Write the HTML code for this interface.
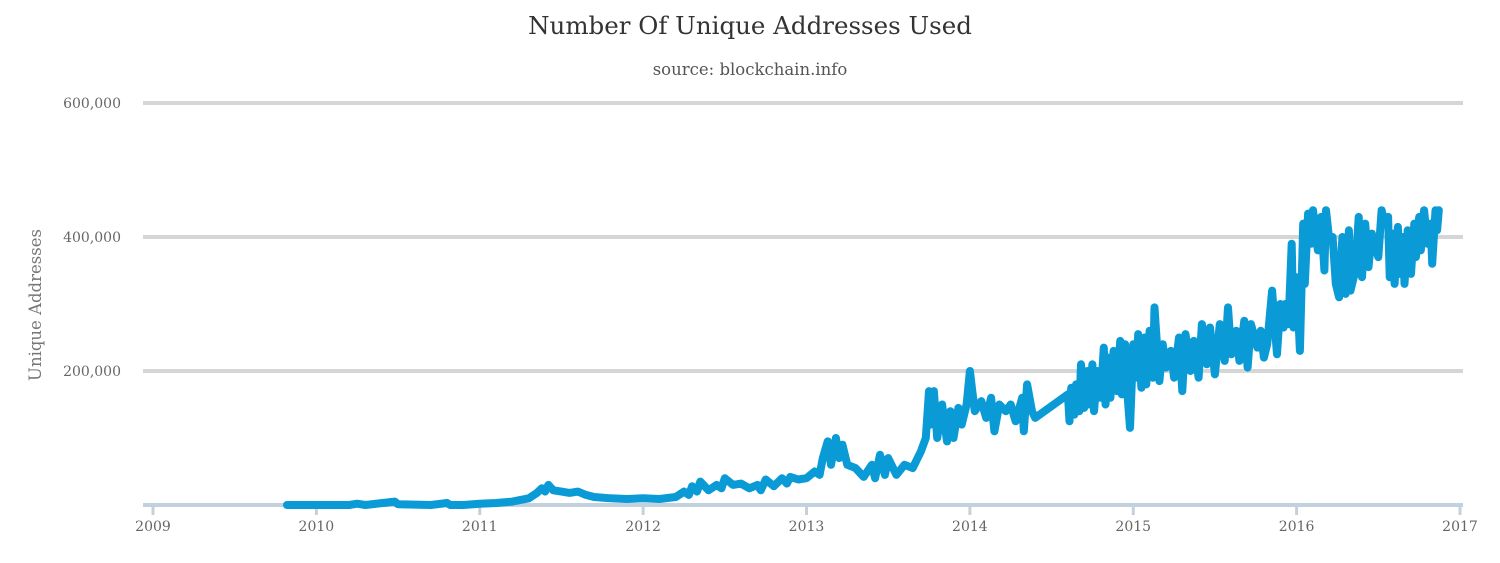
<!DOCTYPE html>
<html><head><meta charset="utf-8"><style>
html,body{margin:0;padding:0;background:#fff;}
svg{display:block;font-family:"DejaVu Serif","Liberation Serif",serif;}
</style></head><body>
<svg id="chart" width="1500" height="563">
<text x="750" y="34" text-anchor="middle" font-size="24.5" fill="#333">Number Of Unique Addresses Used</text>
<text x="750" y="75" text-anchor="middle" font-size="16.5" fill="#555">source: blockchain.info</text>
<text transform="translate(41,305) rotate(-90)" text-anchor="middle" font-size="16.5" fill="#777">Unique Addresses</text>
<g id="grid"></g><g id="xaxis"></g>
<defs><clipPath id="plotclip"><rect x="140" y="205" width="1330" height="310"/></clipPath></defs>
<path id="line" fill="none" stroke="#0a9bd6" stroke-width="8" stroke-linejoin="round" stroke-linecap="round" clip-path="url(#plotclip)"/>
</svg>
<script>
const yTicks=[200000,400000,600000];
const yTickLabels=["200,000","400,000","600,000"];
const xYears=[2009,2010,2011,2012,2013,2014,2015,2016,2017];
const dates=[2009.82,2010.0,2010.2,2010.25,2010.3,2010.48,2010.5,2010.7,2010.8,2010.82,2010.9,2011.0,2011.1,2011.2,2011.3,2011.35,2011.38,2011.4,2011.42,2011.45,2011.5,2011.55,2011.6,2011.65,2011.7,2011.8,2011.9,2012.0,2012.1,2012.2,2012.25,2012.28,2012.3,2012.33,2012.35,2012.4,2012.45,2012.48,2012.5,2012.55,2012.6,2012.65,2012.7,2012.72,2012.75,2012.8,2012.85,2012.88,2012.9,2012.95,2013.0,2013.05,2013.08,2013.1,2013.13,2013.15,2013.18,2013.2,2013.22,2013.25,2013.3,2013.35,2013.4,2013.42,2013.45,2013.48,2013.5,2013.55,2013.6,2013.65,2013.68,2013.7,2013.73,2013.75,2013.76,2013.78,2013.8,2013.83,2013.86,2013.88,2013.9,2013.93,2013.95,2013.98,2014.0,2014.02,2014.03,2014.07,2014.1,2014.13,2014.15,2014.18,2014.22,2014.25,2014.28,2014.32,2014.33,2014.35,2014.38,2014.4,2014.6,2014.61,2014.62,2014.64,2014.65,2014.67,2014.68,2014.7,2014.72,2014.73,2014.75,2014.76,2014.78,2014.8,2014.82,2014.83,2014.85,2014.86,2014.88,2014.9,2014.92,2014.93,2014.95,2014.96,2014.98,2015.0,2015.02,2015.03,2015.05,2015.07,2015.08,2015.1,2015.12,2015.13,2015.16,2015.18,2015.2,2015.23,2015.25,2015.28,2015.3,2015.32,2015.35,2015.37,2015.4,2015.42,2015.45,2015.47,2015.5,2015.53,2015.56,2015.58,2015.6,2015.63,2015.65,2015.68,2015.7,2015.72,2015.76,2015.78,2015.8,2015.82,2015.85,2015.88,2015.9,2015.92,2015.93,2015.95,2015.97,2015.98,2016.0,2016.02,2016.04,2016.05,2016.07,2016.09,2016.1,2016.13,2016.15,2016.17,2016.18,2016.2,2016.22,2016.24,2016.26,2016.28,2016.3,2016.32,2016.33,2016.36,2016.38,2016.4,2016.42,2016.44,2016.46,2016.5,2016.52,2016.54,2016.56,2016.57,2016.59,2016.6,2016.62,2016.63,2016.65,2016.66,2016.68,2016.7,2016.72,2016.73,2016.75,2016.76,2016.78,2016.8,2016.82,2016.83,2016.85,2016.86,2016.87,2016.88];
const values=[0,0,0,2000,0,5000,1000,0,3000,0,0,2000,3000,5000,10000,18000,25000,20000,30000,22000,20000,18000,20000,15000,12000,10000,9000,10000,9000,12000,20000,15000,28000,20000,35000,22000,30000,25000,40000,30000,32000,25000,30000,22000,38000,28000,40000,32000,42000,38000,40000,50000,45000,70000,95000,60000,100000,70000,90000,60000,55000,42000,60000,40000,75000,45000,70000,45000,60000,55000,70000,80000,100000,170000,120000,170000,100000,150000,95000,140000,100000,145000,120000,150000,200000,160000,140000,155000,130000,160000,110000,150000,140000,150000,125000,160000,110000,180000,140000,130000,165000,125000,175000,135000,180000,140000,210000,145000,200000,150000,210000,140000,200000,160000,235000,150000,220000,160000,230000,170000,245000,165000,240000,180000,115000,240000,190000,255000,175000,250000,180000,260000,190000,295000,185000,240000,205000,230000,190000,250000,170000,255000,200000,245000,190000,270000,210000,265000,195000,270000,215000,295000,225000,260000,215000,275000,205000,270000,235000,260000,220000,240000,320000,225000,300000,265000,300000,270000,390000,265000,340000,230000,420000,330000,435000,390000,440000,380000,430000,350000,440000,395000,400000,330000,310000,400000,315000,410000,320000,350000,430000,340000,420000,355000,405000,370000,440000,420000,430000,340000,405000,330000,415000,345000,400000,330000,410000,345000,420000,370000,430000,380000,440000,390000,420000,360000,440000,410000,440000];
const NS="http://www.w3.org/2000/svg";
const X0=143,X1=1463,Y0=505,Y600=103;
function xs(v){return 153+(v-2009)*(1460-153)/8;}
function ys(v){return Y0-(v/600000)*(Y0-Y600);}
const grid=document.getElementById('grid');
yTicks.forEach((t,i)=>{
 const l=document.createElementNS(NS,'line');
 l.setAttribute('x1',X0);l.setAttribute('x2',X1);l.setAttribute('y1',ys(t));l.setAttribute('y2',ys(t));
 l.setAttribute('stroke','#d6d6d6');l.setAttribute('stroke-width','4');
 
 
 grid.appendChild(l);
 const tx=document.createElementNS(NS,'text');
 tx.setAttribute('x',121);tx.setAttribute('y',ys(t)+5);tx.setAttribute('text-anchor','end');
 tx.setAttribute('font-size','14');tx.setAttribute('fill','#666');
 tx.textContent=yTickLabels[i];
 
 
 grid.appendChild(tx);
});
const xa=document.getElementById('xaxis');
const ax=document.createElementNS(NS,'line');
ax.setAttribute('x1',X0);ax.setAttribute('x2',X1);ax.setAttribute('y1',Y0);ax.setAttribute('y2',Y0);
ax.setAttribute('stroke','#c3d0de');ax.setAttribute('stroke-width','4');


xa.appendChild(ax);
xYears.forEach(yr=>{
 const t=document.createElementNS(NS,'line');
 t.setAttribute('x1',xs(yr));t.setAttribute('x2',xs(yr));t.setAttribute('y1',Y0);t.setAttribute('y2',Y0+10);
 t.setAttribute('stroke','#c3d0de');t.setAttribute('stroke-width','3');
 
 
 xa.appendChild(t);
 const tx=document.createElementNS(NS,'text');
 tx.setAttribute('x',xs(yr));tx.setAttribute('y',531);tx.setAttribute('text-anchor','middle');
 tx.setAttribute('font-size','14');tx.setAttribute('fill','#666');
 tx.textContent=String(yr);
 
 
 xa.appendChild(tx);
});
document.getElementById('line').setAttribute('d',dates.map((d,i)=>(i?'L':'M')+xs(d).toFixed(1)+','+ys(values[i]).toFixed(1)).join(''));
</script>
</body></html>
